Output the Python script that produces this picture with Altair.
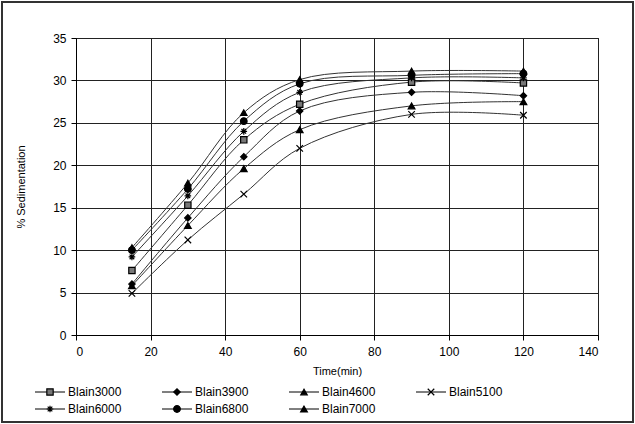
import altair as alt
import pandas as pd

# Sampling times (min)
times = [15, 30, 45, 60, 90, 120]

series_names = ["Blain3000", "Blain3900", "Blain4600", "Blain5100",
                "Blain6000", "Blain6800", "Blain7000"]

# % sedimentation for each blend at the sampling times
blain3000 = [7.6, 15.3, 23.0, 27.2, 29.8, 29.7]
blain3900 = [6.0, 13.8, 21.0, 26.4, 28.6, 28.2]
blain4600 = [10.3, 17.9, 26.2, 30.1, 31.1, 31.1]
blain5100 = [4.9, 11.2, 16.6, 22.0, 26.0, 25.9]
blain6000 = [9.2, 16.4, 24.0, 28.6, 30.3, 30.3]
blain6800 = [10.0, 17.2, 25.2, 29.6, 30.6, 30.8]
blain7000 = [5.8, 12.9, 19.6, 24.2, 27.0, 27.5]

values = [blain3000, blain3900, blain4600, blain5100, blain6000, blain6800, blain7000]

rows = []
for name, vals in zip(series_names, values):
    for t, v in zip(times, vals):
        rows.append({"series": name, "time": t, "sed": v})
df = pd.DataFrame(rows)

X_PATH = "M-1,-1L1,1M-1,1L1,-1"
STAR_PATH = "M-1,0L1,0M0,-1L0,1M-0.7,-0.7L0.7,0.7M-0.7,0.7L0.7,-0.7"
shapes = ["square", "diamond", "triangle-up", X_PATH, STAR_PATH, "circle", "triangle-up"]
fills = ["#777777", "black", "black", "transparent", "transparent", "black", "black"]
sizes = [40, 45, 45, 40, 55, 40, 45]

W, H = 522, 297
FONT = "Liberation Sans"

shape_scale = alt.Scale(domain=series_names, range=shapes)
fill_scale = alt.Scale(domain=series_names, range=fills)
size_scale = alt.Scale(domain=series_names, range=sizes)

x_enc = alt.X("time:Q", scale=alt.Scale(domain=[0, 140]),
              axis=alt.Axis(values=list(range(0, 141, 20)), title="Time(min)",
                            grid=True, gridColor="#222", gridWidth=1,
                            tickSize=5, tickColor="black", domainColor="black",
                            labelPadding=6, titlePadding=8,
                            labelFontSize=12, titleFontSize=11,
                            labelFont=FONT, titleFont=FONT,
                            labelColor="black", titleColor="black",
                            titleFontWeight="normal"))
y_enc = alt.Y("sed:Q", scale=alt.Scale(domain=[0, 35]),
              axis=alt.Axis(values=list(range(0, 36, 5)), title="% Sedimentation",
                            grid=True, gridColor="#222", gridWidth=1,
                            tickSize=5, tickColor="black", domainColor="black",
                            labelPadding=5, titlePadding=26,
                            labelFontSize=12, titleFontSize=11,
                            labelFont=FONT, titleFont=FONT,
                            labelColor="black", titleColor="black",
                            titleFontWeight="normal"))

lines = alt.Chart(df).mark_line(interpolate="catmull-rom", color="#333333",
                                strokeWidth=1).encode(
    x=x_enc, y=y_enc, detail="series:N")

points = alt.Chart(df).mark_point(stroke="black", strokeWidth=1.2,
                                  opacity=1).encode(
    x="time:Q", y="sed:Q",
    shape=alt.Shape("series:N", scale=shape_scale, legend=None),
    fill=alt.Fill("series:N", scale=fill_scale, legend=None),
    size=alt.Size("series:N", scale=size_scale, legend=None))

main = alt.layer(lines, points)

# Legend laid out in four columns below the plot area
leg_rows = []
for i, name in enumerate(series_names):
    col, row = i % 4, i // 4
    x0 = -41 + col * 127
    y0 = 354 + row * 17
    leg_rows.append({"series": name, "lx": x0, "lx2": x0 + 30,
                     "sx": x0 + 15, "tx": x0 + 33, "ly": y0})
leg = pd.DataFrame(leg_rows)

leg_lines = alt.Chart(leg).mark_rule(color="black", strokeWidth=1).encode(
    x=alt.X("lx:Q", scale=None, axis=None), x2="lx2:Q",
    y=alt.Y("ly:Q", scale=None, axis=None))
leg_points = alt.Chart(leg).mark_point(stroke="black", strokeWidth=1.2,
                                       opacity=1).encode(
    x=alt.X("sx:Q", scale=None, axis=None),
    y=alt.Y("ly:Q", scale=None, axis=None),
    shape=alt.Shape("series:N", scale=shape_scale, legend=None),
    fill=alt.Fill("series:N", scale=fill_scale, legend=None),
    size=alt.Size("series:N", scale=size_scale, legend=None))
leg_text = alt.Chart(leg).mark_text(align="left", baseline="middle", fontSize=12,
                                    font=FONT, color="black").encode(
    x=alt.X("tx:Q", scale=None, axis=None),
    y=alt.Y("ly:Q", scale=None, axis=None),
    text="series:N")

frame = alt.Chart(leg).mark_rect(filled=False, stroke="#333", strokeWidth=1.5).encode(
    x=alt.value(-74), x2=alt.value(557), y=alt.value(-36), y2=alt.value(384))

chart = alt.layer(main, leg_lines, leg_points, leg_text, frame).resolve_scale(
    x="independent", y="independent", shape="shared", fill="shared", size="shared"
).properties(
    width=W, height=H,
    autosize=alt.AutoSizeParams(type="none"),
    padding={"left": 76, "top": 38, "right": 37, "bottom": 89},
    background="white",
).configure_view(stroke="black", strokeWidth=1)

chart.save("out.html", embed_options={"renderer": "svg", "actions": False})
